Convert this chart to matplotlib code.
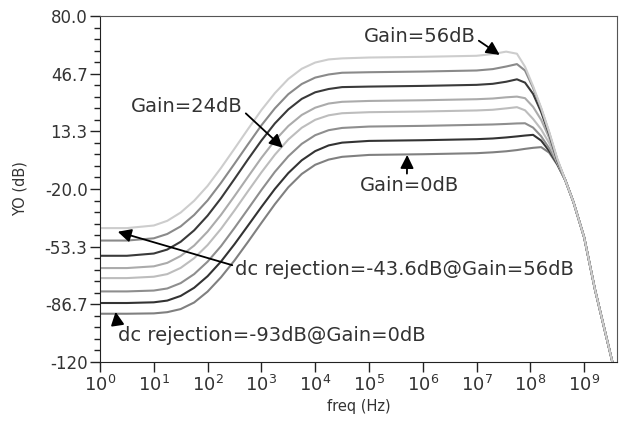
import numpy as np
import matplotlib
matplotlib.use('Agg')
import matplotlib.pyplot as plt
from matplotlib.ticker import FixedLocator, MultipleLocator, NullLocator

# frequency grid, as log10(Hz)
freq_exp = [0.0, 0.5, 1.0, 1.25, 1.5, 1.75, 2.0, 2.25, 2.5, 2.75, 3.0, 3.25,
            3.5, 3.75, 4.0, 4.25, 4.5, 5.0, 5.5, 6.0, 6.5, 7.0, 7.3, 7.55,
            7.75, 7.9, 8.05, 8.2, 8.35, 8.5, 8.65, 8.8, 9.0, 9.2, 9.4, 9.52]

# all curves fall onto the same roll-off above ~300 MHz
tail = [-15.0, -27.5, -48.0, -78.0, -104.0, -119.5]

yo_gain0 = [-92.1, -92.1, -91.9, -91.2, -89.4, -85.6, -79.3, -71.0, -61.3, -50.6,
            -39.6, -28.8, -19.0, -11.3, -6.0, -3.0, -1.4, -0.3, -0.1, 0.1, 0.4,
            0.7, 1.2, 1.8, 2.5, 3.2, 3.8, 4.2, 1.0, -6.0] + tail
yo_gain8 = [-85.9, -85.9, -85.5, -84.5, -81.8, -77.1, -70.4, -61.9, -51.9, -41.2,
            -30.4, -20.0, -10.8, -3.4, 1.9, 5.2, 6.8, 7.8, 8.0, 8.2, 8.5,
            8.8, 9.2, 9.8, 10.4, 10.9, 11.3, 8.0, 2.0, -5.5] + tail
yo_gain16 = [-79.2, -79.2, -78.7, -77.5, -74.4, -69.2, -62.0, -53.0, -42.5, -31.6,
             -20.6, -10.1, -1.1, 6.1, 11.1, 14.0, 15.3, 16.1, 16.3, 16.5, 16.8,
             17.1, 17.3, 17.6, 17.9, 18.0, 15.5, 10.5, 3.5, -5.0] + tail
yo_gain24 = [-71.5, -71.5, -70.7, -69.2, -65.6, -60.0, -52.4, -43.0, -32.4, -21.3,
             -10.4, -0.2, 8.6, 15.4, 20.0, 22.6, 23.8, 24.4, 24.6, 24.8, 25.1,
             25.4, 25.8, 26.6, 27.3, 25.5, 20.5, 14.5, 6.5, -4.5] + tail
yo_gain32 = [-65.7, -65.7, -64.7, -62.7, -58.7, -52.7, -44.6, -34.9, -24.1, -13.0,
             -2.0, 8.0, 16.4, 22.8, 27.0, 29.4, 30.4, 30.9, 31.1, 31.3, 31.6,
             31.9, 32.3, 33.0, 33.4, 32.5, 27.5, 20.0, 9.5, -4.0] + tail
yo_gain40 = [-58.6, -58.6, -57.3, -55.0, -50.5, -43.9, -35.4, -25.3, -14.2, -2.9,
             8.0, 17.9, 26.0, 32.1, 35.9, 37.8, 38.9, 39.2, 39.4, 39.6, 39.9,
             40.2, 40.8, 42.0, 43.4, 41.5, 35.0, 24.5, 11.5, -3.5] + tail
yo_gain48 = [-49.8, -49.8, -48.5, -46.0, -41.6, -35.0, -26.6, -16.4, -5.4, 5.8,
             16.8, 26.6, 34.8, 40.7, 44.4, 46.2, 47.2, 47.5, 47.7, 47.9, 48.2,
             48.5, 49.3, 50.8, 52.2, 48.5, 38.5, 26.5, 12.5, -3.0] + tail
yo_gain56 = [-42.6, -42.6, -41.1, -38.4, -33.6, -26.8, -18.2, -7.8, 3.3, 14.6,
             25.6, 35.4, 43.6, 49.5, 53.1, 54.9, 55.5, 56.0, 56.2, 56.4, 56.7,
             57.0, 58.0, 59.4, 58.2, 50.7, 39.5, 27.0, 13.0, -2.5] + tail

curves = [yo_gain0, yo_gain8, yo_gain16, yo_gain24,
          yo_gain32, yo_gain40, yo_gain48, yo_gain56]
colors = ['#808080', '#333333', '#8e8e8e', '#bdbdbd',
          '#ababab', '#3a3a3a', '#8a8a8a', '#cdcdcd']

y_ticks = [80.0, 46.667, 13.333, -20.0, -53.333, -86.667, -120.0]
y_labels = ['80.0', '46.7', '13.3', '-20.0', '-53.3', '-86.7', '-120']
x_ticks = [1e0, 1e1, 1e2, 1e3, 1e4, 1e5, 1e6, 1e7, 1e8, 1e9]

text_col = '#333333'

fig = plt.figure(figsize=(6.28, 4.25), dpi=100)
ax = fig.add_axes([100 / 628, 63 / 425, 517 / 628, 346 / 425])

freq = 10.0 ** np.array(freq_exp)
for yo, col in zip(curves, colors):
    ax.plot(freq, yo, color=col, lw=1.5, solid_joinstyle='round')

ax.set_xscale('log')
ax.set_xlim(1, 10 ** 9.61)
ax.set_ylim(-120, 80)

ax.yaxis.set_major_locator(FixedLocator(y_ticks))
ax.set_yticklabels(y_labels)
ax.yaxis.set_minor_locator(MultipleLocator(200 / 30))
ax.xaxis.set_major_locator(FixedLocator(x_ticks))
ax.xaxis.set_minor_locator(NullLocator())
ax.set_xticklabels(['$10^{%d}$' % i for i in range(10)])

ax.tick_params(which='major', direction='out', length=7, width=1,
               colors='#222222', labelcolor=text_col, pad=2)
ax.tick_params(axis='y', labelsize=12)
ax.tick_params(axis='x', labelsize=13)
ax.tick_params(which='minor', direction='out', length=4, width=1, colors='#222222')
for side in ['left', 'bottom']:
    ax.spines[side].set_color('#222222')
for side in ['top', 'right']:
    ax.spines[side].set_color('#555555')

ax.set_xlabel('freq (Hz)', fontsize=10.5, color=text_col, labelpad=3)
ax.set_ylabel('YO (dB)', fontsize=10.5, color=text_col)
ax.yaxis.set_label_coords(-0.14, 0.5)

arrow = dict(arrowstyle='-|>', color='black', lw=1.3, mutation_scale=20,
             shrinkA=0, shrinkB=0)
fs = 14

ax.annotate('Gain=56dB', xy=(10 ** 7.43, 57.5), xytext=(10 ** 5.95, 67.9),
            ha='center', va='center', fontsize=fs, color=text_col,
            arrowprops=dict(arrow, relpos=(1.0, 0.4)))
ax.annotate('Gain=24dB', xy=(10 ** 3.40, 3.8), xytext=(10 ** 1.62, 27.4),
            ha='center', va='center', fontsize=fs, color=text_col,
            arrowprops=dict(arrow, relpos=(1.0, 0.3)))
ax.annotate('Gain=0dB', xy=(10 ** 5.71, -0.3), xytext=(10 ** 5.76, -18.2),
            ha='center', va='center', fontsize=fs, color=text_col,
            arrowprops=dict(arrow, relpos=(0.47, 1.0)))
ax.annotate('dc rejection=-43.6dB@Gain=56dB', xy=(10 ** 0.33, -44.7),
            xytext=(10 ** 2.51, -66.7), ha='left', va='center',
            fontsize=fs, color=text_col,
            arrowprops=dict(arrow, relpos=(0.0, 0.7)))
ax.annotate('dc rejection=-93dB@Gain=0dB', xy=(10 ** 0.29, -91.0),
            xytext=(10 ** 0.33, -104.8), ha='left', va='center',
            fontsize=fs, color=text_col,
            arrowprops=dict(arrow, relpos=(0.0, 1.0)))

fig.savefig('out.png', dpi=100)
